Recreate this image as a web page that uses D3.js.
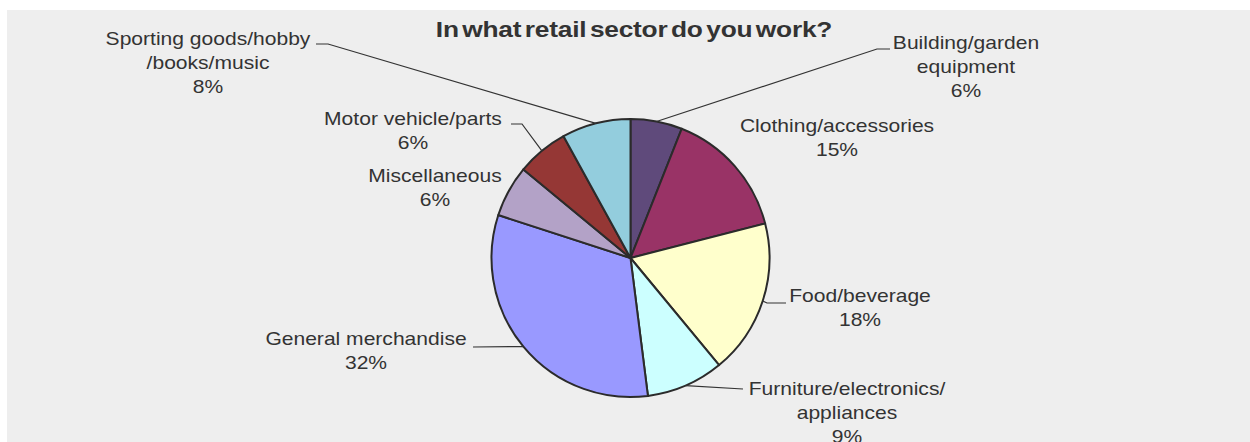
<!DOCTYPE html>
<html>
<head>
<meta charset="utf-8">
<script src="https://cdn.jsdelivr.net/npm/d3@7"></script>
<style>
  html, body { margin: 0; padding: 0; background: #ffffff; }
  svg { display: block; }
</style>
</head>
<body>
<svg id="chart" width="1250" height="442"></svg>
<script>
// Survey answers: share of respondents by retail sector (percent)
const categories = [
  "Building/garden equipment",
  "Clothing/accessories",
  "Food/beverage",
  "Furniture/electronics/appliances",
  "General merchandise",
  "Miscellaneous",
  "Motor vehicle/parts",
  "Sporting goods/hobby/books/music"
];
const shares = [6, 15, 18, 9, 32, 6, 6, 8];
const labelLines = [
  ["Building/garden", "equipment"],
  ["Clothing/accessories"],
  ["Food/beverage"],
  ["Furniture/electronics/", "appliances"],
  ["General merchandise"],
  ["Miscellaneous"],
  ["Motor vehicle/parts"],
  ["Sporting goods/hobby", "/books/music"]
];
const titleText = "In what retail sector do you work?";

// Slice fills, in category order
const sliceColors = ["#5f4a7b", "#993366", "#ffffcc", "#ccffff",
                     "#9999ff", "#b3a2c7", "#953735", "#93cddd"];

// Label placement relative to the pie centre: text centre / first baseline,
// plus the bend points of each leader line (the line starts on the rim).
const labelLayout = [
  { tx: 335.5, ty: -209, leader: [[246.5, -209], [259.5, -209]] },
  { tx: 206.5, ty: -126, leader: null },
  { tx: 229.5, ty: 44,   leader: [[136.5, 45], [155.5, 45]] },
  { tx: 216.5, ty: 137,  leader: [[112.5, 131]] },
  { tx: -264.5, ty: 87,  leader: [[-157.5, 89]] },
  { tx: -195.5, ty: -76, leader: null },
  { tx: -217.5, ty: -133, leader: [[-108.5, -134], [-119.5, -134]] },
  { tx: -422.5, ty: -213, leader: [[-302.5, -214], [-314.5, -214]] }
];

const W = 1250, H = 442;
const cx = 630.5, cy = 258, radius = 139;
const textScaleX = 1.17;
const lineGap = 24;

const svg = d3.select("#chart");

// panel background
svg.append("rect")
  .attr("x", 7).attr("y", 10)
  .attr("width", W - 7).attr("height", H - 10)
  .attr("fill", "#eeeeee");

// title
svg.append("g")
  .attr("transform", `translate(634,37) scale(${textScaleX},1)`)
  .append("text")
  .attr("text-anchor", "middle")
  .attr("font-family", "Liberation Sans, Arial, sans-serif")
  .attr("font-weight", "bold")
  .attr("font-size", 22.5)
  .attr("word-spacing", -3)
  .attr("letter-spacing", -0.2)
  .attr("fill", "#333333")
  .text(titleText);

const data = categories.map((c, i) => ({
  name: c, value: shares[i], color: sliceColors[i],
  lines: labelLines[i], layout: labelLayout[i]
}));

const pie = d3.pie().sort(null).value(d => d.value)
  .startAngle(0).endAngle(2 * Math.PI);
const arcs = pie(data);

const arc = d3.arc().innerRadius(0).outerRadius(radius);
const rimArc = d3.arc().innerRadius(radius).outerRadius(radius);

const g = svg.append("g").attr("transform", `translate(${cx},${cy})`);

g.selectAll("path.slice")
  .data(arcs)
  .join("path")
  .attr("class", "slice")
  .attr("d", arc)
  .attr("fill", d => d.data.color)
  .attr("stroke", "#2b2b2b")
  .attr("stroke-width", 2)
  .attr("stroke-linejoin", "round");

// leader lines from the slice rim to each label
const line = d3.line();
g.selectAll("path.leader")
  .data(arcs.filter(d => d.data.layout.leader))
  .join("path")
  .attr("class", "leader")
  .attr("d", d => line([rimArc.centroid(d), ...d.data.layout.leader]))
  .attr("fill", "none")
  .attr("stroke", "#333333")
  .attr("stroke-width", 1.2);

// labels: category name lines followed by the percentage
const fmt = d3.format(".0f");
const labels = g.selectAll("g.label")
  .data(arcs)
  .join("g")
  .attr("class", "label")
  .attr("transform", d => `translate(${d.data.layout.tx},${d.data.layout.ty}) scale(${textScaleX},1)`);

labels.append("text")
  .attr("text-anchor", "middle")
  .attr("font-family", "Liberation Sans, Arial, sans-serif")
  .attr("font-size", 18)
  .attr("fill", "#333333")
  .selectAll("tspan")
  .data(d => [...d.data.lines, fmt(d.data.value) + "%"])
  .join("tspan")
  .attr("x", 0)
  .attr("y", (d, i) => i * lineGap)
  .text(d => d);
</script>
</body>
</html>
